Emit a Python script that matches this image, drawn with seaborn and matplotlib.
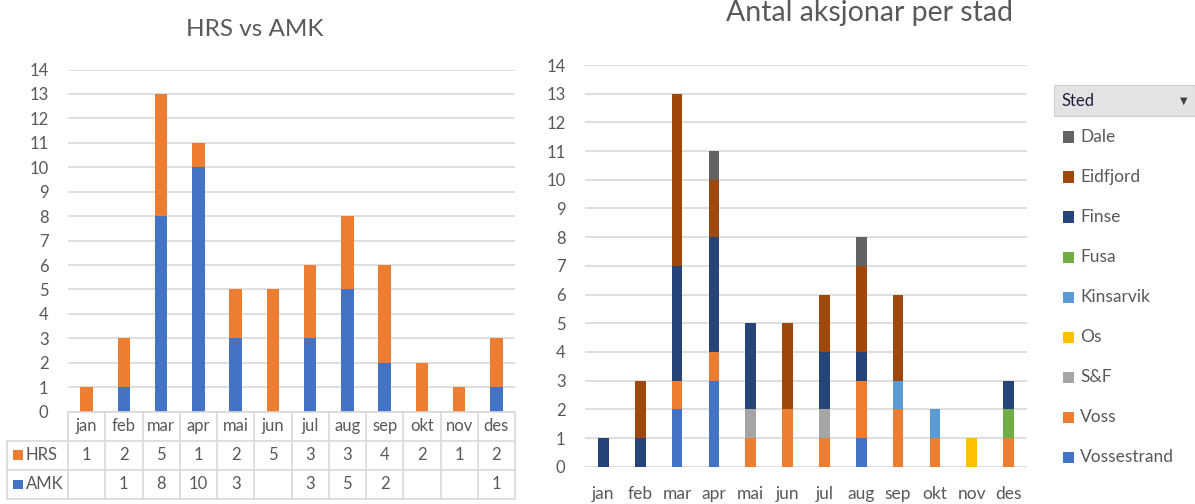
import matplotlib
matplotlib.use("Agg")
import matplotlib.pyplot as plt
from matplotlib.patches import Rectangle
import seaborn as sns
import numpy as np

# Month labels
months = ['jan', 'feb', 'mar', 'apr', 'mai', 'jun', 'jul', 'aug', 'sep', 'okt', 'nov', 'des']

# Left chart: HRS vs AMK (AMK at the bottom)
hrs = [1, 2, 5, 1, 2, 5, 3, 3, 4, 2, 1, 2]
amk = [0, 1, 8, 10, 3, 0, 3, 5, 2, 0, 0, 1]

# Right chart: actions per place, listed bottom to top of the stack
vossestrand = [0, 0, 2, 3, 0, 0, 0, 1, 0, 0, 0, 0]
voss = [0, 0, 1, 1, 1, 2, 1, 2, 2, 1, 0, 1]
sf = [0, 0, 0, 0, 1, 0, 1, 0, 0, 0, 0, 0]
os_ = [0, 0, 0, 0, 0, 0, 0, 0, 0, 0, 1, 0]
kinsarvik = [0, 0, 0, 0, 0, 0, 0, 0, 1, 1, 0, 0]
fusa = [0, 0, 0, 0, 0, 0, 0, 0, 0, 0, 0, 1]
finse = [1, 1, 4, 4, 3, 0, 2, 1, 0, 0, 0, 1]
eidfjord = [0, 2, 6, 2, 0, 3, 2, 3, 3, 0, 0, 0]
dale = [0, 0, 0, 1, 0, 0, 0, 1, 0, 0, 0, 0]

steder = ['Vossestrand', 'Voss', 'S&F', 'Os', 'Kinsarvik', 'Fusa', 'Finse', 'Eidfjord', 'Dale']
stad_values = [vossestrand, voss, sf, os_, kinsarvik, fusa, finse, eidfjord, dale]
stad_colors = ['#4472C4', '#ED7D31', '#A5A5A5', '#FFC000', '#5B9BD5',
               '#70AD47', '#264478', '#9E480E', '#636363']

ORANGE = '#ED7D31'
BLUE = '#4472C4'
GRID = '#D9D9D9'
TXT = '#595959'

sns.set_theme(style='white')
plt.rcParams['font.family'] = ['Lato', 'DejaVu Sans']

W, H = 1195, 504
fig = plt.figure(figsize=(W / 100, H / 100), dpi=100)


def px_axes(x0, y0, x1, y1):
    # pixel box (top-left origin) -> figure axes
    return fig.add_axes([x0 / W, (H - y1) / H, (x1 - x0) / W, (y1 - y0) / H])


def style_axes(ax):
    ax.set_ylim(0, 14)
    ax.set_xlim(-0.5, 11.5)
    ax.set_yticks(range(0, 15))
    ax.yaxis.grid(True, color=GRID, linewidth=1.2)
    ax.set_axisbelow(True)
    for s in ax.spines.values():
        s.set_visible(False)
    ax.tick_params(axis='both', length=0, labelsize=12, colors=TXT)
    ax.tick_params(axis='y', pad=14)
    ax.set_xlabel('')
    ax.set_ylabel('')


# ---------------- Left chart ----------------
axl = px_axes(68, 69.5, 515, 411.7)
totals = np.array(amk) + np.array(hrs)
sns.barplot(x=months, y=totals, order=months, color=ORANGE, saturation=1,
            width=0.33, linewidth=0, ax=axl)
sns.barplot(x=months, y=amk, order=months, color=BLUE, saturation=1,
            width=0.33, linewidth=0, ax=axl)
style_axes(axl)
axl.set_xticklabels([])
fig.text(255 / W, (H - 36) / H, 'HRS vs AMK', fontsize=17.5, color=TXT,
         ha='center', va='baseline')

# data table under the left chart
col_w = (515 - 68) / 12
lab_w = (68 - 7) / col_w
axt = px_axes(7, 411.7, 515, 499)
axt.set_xlim(-0.5 - lab_w, 11.5)
axt.set_ylim(3, 0)
axt.axis('off')
for yy in [0, 1, 2, 3]:
    x_start = -0.5 if yy == 0 else -0.5 - lab_w
    axt.plot([x_start, 11.5], [yy, yy], color=GRID, lw=1.2, clip_on=False)
for k in range(13):
    axt.plot([k - 0.5, k - 0.5], [0, 3], color=GRID, lw=1.2, clip_on=False)
axt.plot([-0.5 - lab_w] * 2, [1, 3], color=GRID, lw=1.2, clip_on=False)

for i, m in enumerate(months):
    axt.text(i, 0.5, m, ha='center', va='center', fontsize=12, color=TXT)
    axt.text(i, 1.5, str(hrs[i]), ha='center', va='center', fontsize=12, color=TXT)
    if amk[i]:
        axt.text(i, 2.5, str(amk[i]), ha='center', va='center', fontsize=12, color=TXT)

for row, (name, c) in enumerate([('HRS', ORANGE), ('AMK', BLUE)]):
    yc = 1.5 + row
    axt.add_patch(Rectangle((-0.5 - lab_w + 0.17, yc - 0.17), 0.27, 0.34,
                            color=c, lw=0, clip_on=False))
    axt.text(-0.5 - lab_w + 0.5, yc, name, ha='left', va='center', fontsize=12, color=TXT)

# ---------------- Right chart ----------------
axr = px_axes(585, 65, 1027, 466.7)
cum = np.cumsum(np.array(stad_values), axis=0)
for level in range(len(steder) - 1, -1, -1):
    sns.barplot(x=months, y=cum[level], order=months, color=stad_colors[level],
                saturation=1, width=0.29, linewidth=0, ax=axr)
style_axes(axr)
axr.tick_params(axis='x', pad=14, labelsize=12.5)
fig.text(870 / W, (H - 21) / H, 'Antal aksjonar per stad', fontsize=20.5, color=TXT,
         ha='center', va='baseline')

# legend with header box
fig.patches.append(Rectangle((1054 / W, (H - 116) / H), (1195 - 1054) / W, 31 / H,
                             transform=fig.transFigure, facecolor='#E3E3E3',
                             edgecolor='#D0D0D0', lw=0.8))
fig.text(1062 / W, (H - 101) / H, 'Sted', fontsize=12, color='#1F1F3F', va='center')
fig.text(1184 / W, (H - 101) / H, '\u25BC', fontsize=7, color='#404040',
         va='center', ha='center', family='DejaVu Sans')
for j, idx in enumerate(range(len(steder) - 1, -1, -1)):
    yc = 137 + 40 * j
    fig.patches.append(Rectangle((1063 / W, (H - yc - 5.5) / H), 11 / W, 11 / H,
                                 transform=fig.transFigure, facecolor=stad_colors[idx], lw=0))
    fig.text(1080 / W, (H - yc) / H, steder[idx], fontsize=12.5, color=TXT, va='center')

fig.savefig('out.png', dpi=100)
